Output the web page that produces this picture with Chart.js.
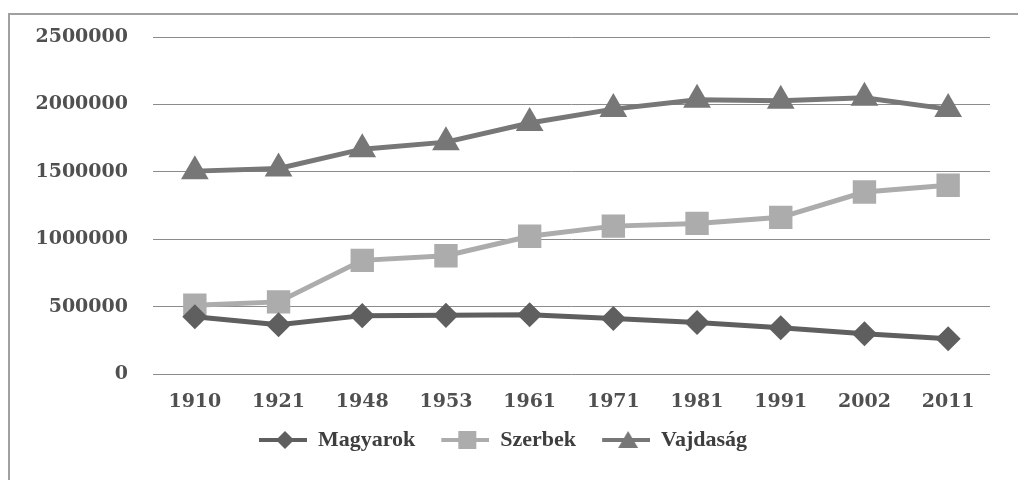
<!DOCTYPE html>
<html>
<head>
<meta charset="utf-8">
<title>Vajdaság népessége</title>
<script src="https://cdn.jsdelivr.net/npm/chart.js@4"></script>
<style>
  body { margin: 0; background: #fff; }
  #wrap { position: relative; width: 1018px; height: 480px; }
  #frame { position: absolute; left: 8px; top: 13px; right: 0; bottom: 0;
           border-left: 2px solid #a0a0a0; border-top: 2px solid #a0a0a0; }
  #c { position: absolute; left: 0; top: 0; }
</style>
</head>
<body>
<div id="wrap">
  <div id="frame"></div>
  <canvas id="c" width="1018" height="480"></canvas>
</div>
<script>
const years = ['1910', '1921', '1948', '1953', '1961', '1971', '1981', '1991', '2002', '2011'];
const magyarok = [425000, 366000, 433000, 435000, 440000, 412000, 382000, 343000, 299000, 261000];
const szerbek = [510000, 535000, 843000, 877000, 1022000, 1097000, 1117000, 1162000, 1350000, 1400000];
const vajdasag = [1505000, 1525000, 1668000, 1720000, 1862000, 1965000, 2035000, 2028000, 2050000, 1965000];
const yTicks = [0, 500000, 1000000, 1500000, 2000000, 2500000];

const colMagyar = '#5f5f5f';
const colSzerb = '#acacac';
const colVajd = '#777777';

// legend sample: short line with the marker in the middle (16px blank on the left as item gap)
function legendIcon(color, shape) {
    const cv = document.createElement('canvas');
    cv.width = 64;
    cv.height = 24;
    const g = cv.getContext('2d');
    g.strokeStyle = color;
    g.lineWidth = 4;
    g.beginPath();
    g.moveTo(16, 12);
    g.lineTo(68, 12);
    g.stroke();
    g.fillStyle = color;
    g.beginPath();
    const cx = 42;
    if (shape === 'diamond') {
        g.moveTo(cx, 3); g.lineTo(cx + 9, 12); g.lineTo(cx, 21); g.lineTo(cx - 9, 12);
    } else if (shape === 'square') {
        g.rect(cx - 9, 3, 18, 18);
    } else {
        g.moveTo(cx, 3); g.lineTo(cx + 10, 20); g.lineTo(cx - 10, 20);
    }
    g.closePath();
    g.fill();
    return cv;
}

const icons = [
    legendIcon(colMagyar, 'diamond'),
    legendIcon(colSzerb, 'square'),
    legendIcon(colVajd, 'triangle')
];

const tickFont = { family: 'DejaVu Serif', size: 19, weight: 'bold' };

new Chart(document.getElementById('c'), {
    type: 'line',
    data: {
        labels: years,
        datasets: [
            {
                label: 'Magyarok',
                data: magyarok,
                borderColor: colMagyar,
                backgroundColor: colMagyar,
                borderWidth: 5,
                pointStyle: 'rectRot',
                pointRadius: 9,
                pointHoverRadius: 9
            },
            {
                label: 'Szerbek',
                data: szerbek,
                borderColor: colSzerb,
                backgroundColor: colSzerb,
                borderWidth: 5,
                pointStyle: 'rect',
                pointRadius: 13,
                pointHoverRadius: 13
            },
            {
                label: 'Vajdaság',
                data: vajdasag,
                borderColor: colVajd,
                backgroundColor: colVajd,
                borderWidth: 5,
                pointStyle: 'triangle',
                pointRadius: 11,
                pointHoverRadius: 11
            }
        ]
    },
    options: {
        responsive: false,
        animation: false,
        layout: { padding: { top: 37, right: 28, bottom: 19, left: 0 } },
        plugins: {
            tooltip: { enabled: false },
            legend: {
                position: 'bottom',
                labels: {
                    usePointStyle: true,
                    pointStyleWidth: 64,
                    padding: 10,
                    color: '#3e3e3e',
                    font: { family: 'Liberation Serif', size: 22, weight: 'bold' },
                    generateLabels: chart => chart.data.datasets.map((ds, i) => ({
                        text: ds.label,
                        pointStyle: icons[i],
                        fillStyle: ds.borderColor,
                        strokeStyle: ds.borderColor,
                        lineWidth: 0,
                        fontColor: '#3e3e3e',
                        datasetIndex: i
                    }))
                }
            }
        },
        scales: {
            x: {
                offset: true,
                grid: { display: false },
                border: { display: false },
                afterFit: scale => { scale.height = 45; },
                ticks: {
                    padding: 9,
                    color: '#505050',
                    font: tickFont
                }
            },
            y: {
                min: 0,
                max: 2500000,
                afterBuildTicks: scale => { scale.ticks = yTicks.map(v => ({ value: v })); },
                afterFit: scale => { scale.width = 153; },
                grid: { color: '#8c8c8c', lineWidth: 1, drawTicks: false },
                border: { display: false },
                ticks: {
                    padding: 25,
                    color: '#505050',
                    font: tickFont,
                    callback: v => String(v)
                }
            }
        }
    }
});
</script>
</body>
</html>
